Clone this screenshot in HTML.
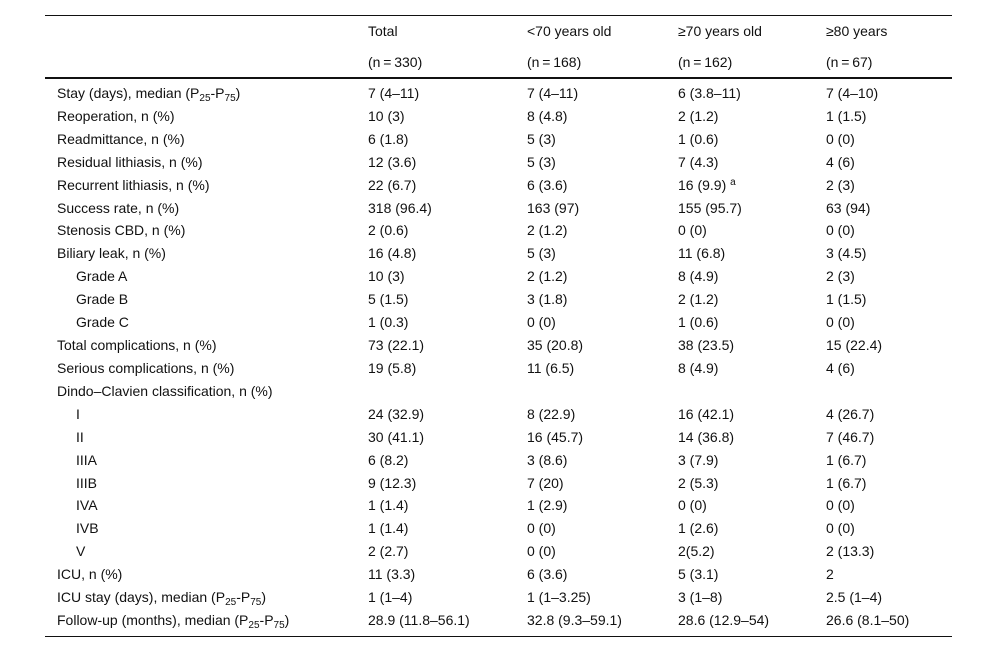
<!DOCTYPE html>
<html><head><meta charset="utf-8"><style>
html,body{margin:0;padding:0;background:#fff;width:1000px;height:653px;overflow:hidden}
body{font-family:"Liberation Sans",Arial,sans-serif;font-size:14px;color:#111;position:relative}
.line{position:absolute;left:45px;width:907px;background:#111}
.row{position:absolute;left:0;width:1000px;height:22px;line-height:22px;white-space:nowrap}
.c{position:absolute;top:0}
.ind{padding-left:19px}
sub{font-size:10px;vertical-align:-3px;line-height:0}
sup{font-size:10px;vertical-align:5px;line-height:0}
</style></head><body>
<div class="line" style="top:15px;height:1px"></div>
<div class="line" style="top:77px;height:2px"></div>
<div class="line" style="top:636px;height:1px"></div>
<div id="t"></div>
<script>
const xs=[57,368,527,678,826];
const P='(P<sub>25</sub>-P<sub>75</sub>)';
const header=[["","Total","&lt;70 years old","≥70 years old","≥80 years"],["","(n\u2009=\u2009330)","(n\u2009=\u2009168)","(n\u2009=\u2009162)","(n\u2009=\u200967)"]];
const rows=[
["Stay (days), median "+P,"7 (4–11)","7 (4–11)","6 (3.8–11)","7 (4–10)"],
["Reoperation, n (%)","10 (3)","8 (4.8)","2 (1.2)","1 (1.5)"],
["Readmittance, n (%)","6 (1.8)","5 (3)","1 (0.6)","0 (0)"],
["Residual lithiasis, n (%)","12 (3.6)","5 (3)","7 (4.3)","4 (6)"],
["Recurrent lithiasis, n (%)","22 (6.7)","6 (3.6)","16 (9.9) <sup>a</sup>","2 (3)"],
["Success rate, n (%)","318 (96.4)","163 (97)","155 (95.7)","63 (94)"],
["Stenosis CBD, n (%)","2 (0.6)","2 (1.2)","0 (0)","0 (0)"],
["Biliary leak, n (%)","16 (4.8)","5 (3)","11 (6.8)","3 (4.5)"],
["<span class='ind'>Grade A</span>","10 (3)","2 (1.2)","8 (4.9)","2 (3)"],
["<span class='ind'>Grade B</span>","5 (1.5)","3 (1.8)","2 (1.2)","1 (1.5)"],
["<span class='ind'>Grade C</span>","1 (0.3)","0 (0)","1 (0.6)","0 (0)"],
["Total complications, n (%)","73 (22.1)","35 (20.8)","38 (23.5)","15 (22.4)"],
["Serious complications, n (%)","19 (5.8)","11 (6.5)","8 (4.9)","4 (6)"],
["Dindo–Clavien classification, n (%)","","","",""],
["<span class='ind'>I</span>","24 (32.9)","8 (22.9)","16 (42.1)","4 (26.7)"],
["<span class='ind'>II</span>","30 (41.1)","16 (45.7)","14 (36.8)","7 (46.7)"],
["<span class='ind'>IIIA</span>","6 (8.2)","3 (8.6)","3 (7.9)","1 (6.7)"],
["<span class='ind'>IIIB</span>","9 (12.3)","7 (20)","2 (5.3)","1 (6.7)"],
["<span class='ind'>IVA</span>","1 (1.4)","1 (2.9)","0 (0)","0 (0)"],
["<span class='ind'>IVB</span>","1 (1.4)","0 (0)","1 (2.6)","0 (0)"],
["<span class='ind'>V</span>","2 (2.7)","0 (0)","2(5.2)","2 (13.3)"],
["ICU, n (%)","11 (3.3)","6 (3.6)","5 (3.1)","2"],
["ICU stay (days), median "+P,"1 (1–4)","1 (1–3.25)","3 (1–8)","2.5 (1–4)"],
["Follow-up (months), median "+P,"28.9 (11.8–56.1)","32.8 (9.3–59.1)","28.6 (12.9–54)","26.6 (8.1–50)"]
];
const t=document.getElementById('t');
function addRow(cells,cy,name){
  const r=document.createElement('div');
  r.className='row';r.style.top=Math.round(cy-11)+'px';
  
  
  cells.forEach((c,i)=>{
    const d=document.createElement('div');
    d.className='c';d.style.left=xs[i]+'px';d.innerHTML=c;
    
    
    r.appendChild(d);
  });
  t.appendChild(r);
}
addRow(header[0],31,'header-row-titles');
addRow(header[1],62,'header-row-counts');
rows.forEach((r,i)=>addRow(r,93+i*(527/23),'data-row-'+(i+1)));
</script>
</body></html>
